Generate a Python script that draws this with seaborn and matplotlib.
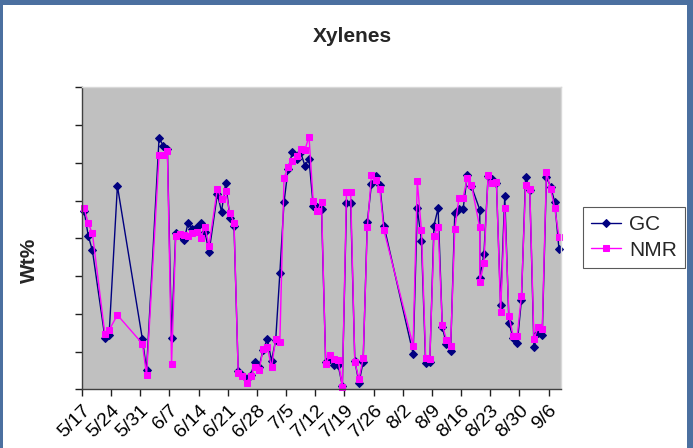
import pandas as pd
import matplotlib.pyplot as plt
import seaborn as sns
from matplotlib.patches import Rectangle

# sampling days counted from 5/17 (two samples on day 95)
days = [0, 1, 2, 5, 6, 8,
        14, 15, 18, 19, 20, 21,
        22, 23, 24, 25, 26, 27, 28, 29, 30,
        32, 33, 34, 35, 36, 37, 38, 39, 40, 41,
        42, 43, 44, 45, 46, 47, 48, 49, 50, 51,
        52, 53, 54, 55, 56, 57, 58, 59, 60, 61,
        62, 63, 64, 65, 66, 67, 68, 69, 70, 71, 72,
        79, 80, 81, 82, 83, 84, 85, 86, 87, 88,
        89, 90, 91, 92, 93,
        95, 95,
        96, 97, 98, 99, 100, 101, 102, 103, 104, 105,
        106, 107, 108, 109, 110, 111, 112, 113, 114]

gc = [4.73, 4.07, 3.68, 1.37, 1.44, 5.39,
      1.33, 0.51, 6.66, 6.46, 6.38, 1.35,
      4.15, 4.09, 3.96, 4.42, 4.25, 4.31, 4.40, 4.18, 3.64,
      5.18, 4.71, 5.48, 4.55, 4.32, 0.48, 0.38, 0.27, 0.38, 0.72,
      0.60, 1.05, 1.33, 0.76, 1.30, 3.08, 4.96, 5.85, 6.28, 6.11,
      6.28, 5.93, 6.10, 4.87, 4.82, 4.79, 0.73, 0.80, 0.64, 0.64,
      0.10, 4.93, 4.93, 0.75, 0.17, 0.73, 4.43, 5.45, 5.65, 5.42, 4.33,
      0.94, 4.80, 3.93, 0.69, 0.72, 4.34, 4.80, 1.65, 1.19, 1.02,
      4.67, 4.78, 4.78, 5.67, 5.38,
      4.76, 2.96,
      3.59, 5.65, 5.57, 5.46, 2.24, 5.13, 1.77, 1.35, 1.22, 2.37,
      5.64, 5.28, 1.13, 1.48, 1.44, 5.63, 5.37, 4.96, 3.73]

nmr = [4.80, 4.40, 4.13, 1.46, 1.57, 1.97,
       1.21, 0.38, 6.20, 6.21, 6.31, 0.66,
       4.06, 4.11, 4.09, 4.07, 4.14, 4.18, 4.01, 4.31, 3.81,
       5.32, 5.04, 5.25, 4.67, 4.42, 0.44, 0.36, 0.18, 0.36, 0.58,
       0.50, 1.07, 1.12, 0.58, 1.34, 1.26, 5.60, 5.90, 6.04, 6.19,
       6.36, 6.34, 6.70, 5.00, 4.73, 4.96, 0.68, 0.90, 0.79, 0.78,
       0.05, 5.22, 5.22, 0.72, 0.27, 0.82, 4.29, 5.67, 5.55, 5.31, 4.21,
       1.16, 5.51, 4.21, 0.84, 0.80, 4.07, 4.31, 1.71, 1.31, 1.16,
       4.25, 5.08, 5.08, 5.60, 5.41,
       4.29, 2.84,
       3.34, 5.68, 5.46, 5.50, 2.05, 4.80, 1.95, 1.42, 1.42, 2.48,
       5.41, 5.31, 1.34, 1.64, 1.60, 5.76, 5.31, 4.80, 4.05]

start = pd.Timestamp("2005-05-17")
# Excel date axis puts each point in the middle of its day
dates = start + pd.to_timedelta(days, unit="D") + pd.Timedelta(hours=12)
tick_dates = pd.date_range(start, periods=17, freq="7D")
tick_labels = [f"{d.month}/{d.day}" for d in tick_dates]

sns.set_style("white")
plt.rcParams["font.family"] = ["Liberation Sans", "DejaVu Sans"]

W, H = 693, 448
fig = plt.figure(figsize=(W / 100, H / 100), dpi=100)
fig.patch.set_facecolor("#4b70a0")
fig.add_artist(Rectangle((3 / W, 0), 684 / W, 443 / H, transform=fig.transFigure,
                         facecolor="white", edgecolor="none", zorder=0))

ax = fig.add_axes([82 / W, 1 - 389.3 / H, (561 - 82) / W, (389.3 - 87.5) / H])
ax.set_facecolor("#c0c0c0")

sns.lineplot(x=dates, y=gc, ax=ax, color="#000080", marker="D", markersize=4,
             markeredgecolor="#000080", linewidth=1, label="GC",
             sort=False, estimator=None, clip_on=False)
sns.lineplot(x=dates, y=nmr, ax=ax, color="#ff00ff", marker="s", markersize=5,
             markeredgecolor="#ff00ff", linewidth=1, label="NMR",
             sort=False, estimator=None, clip_on=False)

ax.set_xlim(start, start + pd.Timedelta(days=115))
ax.set_ylim(0, 8)
ax.set_xlabel("")
ax.set_ylabel("")
ax.set_xticks(tick_dates)
ax.set_xticklabels(tick_labels, rotation=45, ha="right", va="top",
                   rotation_mode="anchor", fontsize=14)
ax.set_yticks(range(9))
ax.set_yticklabels([])
ax.tick_params(axis="both", direction="out", length=5, width=1, color="#202020",
               labelcolor="black", left=True, bottom=True, pad=4)
for side in ["left", "bottom"]:
    ax.spines[side].set_color("#404040")
    ax.spines[side].set_linewidth(1)
for side in ["top", "right"]:
    ax.spines[side].set_color("#d8d8d8")
    ax.spines[side].set_linewidth(1)

leg = ax.legend(loc="upper left", bbox_to_anchor=(583 / W, 1 - 207 / H),
                bbox_transform=fig.transFigure, fontsize=15, frameon=True,
                fancybox=False, edgecolor="#303030", borderaxespad=0,
                handlelength=1.4, handletextpad=0.4, borderpad=0.4,
                labelspacing=0.3)
leg.get_frame().set_linewidth(0.8)
leg.get_frame().set_facecolor("white")

fig.text(352 / W, 1 - 36 / H, "Xylenes", ha="center", va="center",
         fontsize=15, fontweight="bold")
fig.text(29 / W, 1 - 260 / H, "Wt%", ha="center", va="center", rotation=90,
         fontsize=15, fontweight="bold")

fig.savefig("out.png", dpi=100)
